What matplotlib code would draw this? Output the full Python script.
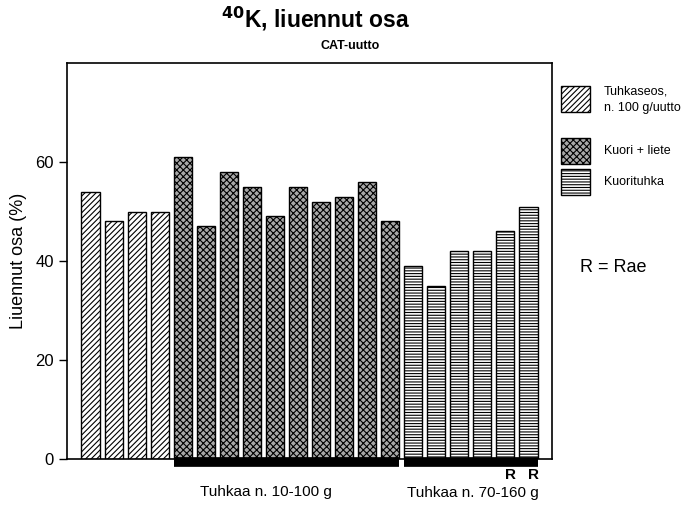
import numpy as np
import matplotlib.pyplot as plt
from matplotlib.patches import Rectangle

plt.rcParams['font.family'] = ['Liberation Sans', 'DejaVu Sans']
plt.rcParams['hatch.linewidth'] = 0.8

# Data ------------------------------------------------------------------------

tuhkaseos = [54, 48, 50, 50]
kuori_liete = [61, 47, 58, 55, 49, 55, 52, 53, 56, 48]
kuorituhka = [39, 35, 42, 42, 46, 51]
rae_labels = ['', '', '', '', 'R', 'R']

legend_labels = ['Tuhkaseos,\nn. 100 g/uutto', 'Kuori + liete', 'Kuorituhka']
group_labels = ['Tuhkaa n. 10-100 g', 'Tuhkaa n. 70-160 g']

# Figure ----------------------------------------------------------------------

fig = plt.figure(figsize=(6.9, 5.08), dpi=100)
ax = fig.add_axes([67 / 690, 49 / 508, 485 / 690, 396 / 508])

w = 0.82
values = tuhkaseos + kuori_liete + kuorituhka
hatches = ['//////'] * len(tuhkaseos) + ['xxxxx'] * len(kuori_liete) + ['------'] * len(kuorituhka)
faces = ['white'] * len(tuhkaseos) + ['#a8a8a8'] * len(kuori_liete) + ['white'] * len(kuorituhka)
x = np.arange(len(values))
for xi, v, h, fc in zip(x, values, hatches, faces):
    ax.bar(xi, v, width=w, facecolor=fc, edgecolor='black', hatch=h, lw=1.0)

ax.set_xlim(-1.04, len(values) + 0.04)
ax.set_ylim(0, 80)
ax.set_yticks([0, 20, 40, 60])
ax.set_xticks([])
ax.tick_params(axis='y', labelsize=12, length=6, width=1, direction='out')
ax.set_ylabel('Liuennut osa (%)', fontsize=13, labelpad=6)
for s in ax.spines.values():
    s.set_linewidth(1.2)

# group bars under the axis
n1 = len(tuhkaseos)
n2 = n1 + len(kuori_liete)
n3 = n2 + len(kuorituhka)
trans = ax.get_xaxis_transform()
ax.plot([n1 - w / 2, n2 - 1 + w / 2], [-0.007, -0.007], color='black', lw=7,
        solid_capstyle='butt', transform=trans, clip_on=False)
ax.plot([n2 - w / 2, n3 - 1 + w / 2], [-0.007, -0.007], color='black', lw=7,
        solid_capstyle='butt', transform=trans, clip_on=False)

for xi, r in zip(x[n2:], rae_labels):
    if r:
        ax.text(xi + 0.25, -0.04, r, transform=trans, ha='center', va='center',
                fontsize=11, fontweight='bold')

fig.text(266 / 690, 1 - 492 / 508, group_labels[0], ha='center', va='center', fontsize=11)
fig.text(473 / 690, 1 - 493 / 508, group_labels[1], ha='center', va='center', fontsize=11)

# titles
fig.text(316 / 690, 1 - 19 / 508, r'$\mathbf{^{40}}$K, liuennut osa', ha='center',
         va='center', fontsize=16.5, fontweight='bold')
fig.text(350 / 690, 1 - 46 / 508, 'CAT-uutto', ha='center', va='center',
         fontsize=9, fontweight='bold')

# legend
leg_hatch = ['//////', 'xxxxx', '------']
leg_face = ['white', '#a8a8a8', 'white']
leg_y = [86, 138, 169]
text_y = [100, 151, 182]
for h, fc, ly, ty, lab in zip(leg_hatch, leg_face, leg_y, text_y, legend_labels):
    fig.add_artist(Rectangle((561 / 690, 1 - (ly + 26) / 508), 29 / 690, 26 / 508,
                             transform=fig.transFigure, facecolor=fc,
                             edgecolor='black', hatch=h, lw=1.0))
    fig.text(604 / 690, 1 - ty / 508, lab, ha='left', va='center', fontsize=9,
             linespacing=1.5)

fig.text(580 / 690, 1 - 268 / 508, 'R = Rae', ha='left', va='center', fontsize=13)

fig.savefig('out.png', dpi=100)
